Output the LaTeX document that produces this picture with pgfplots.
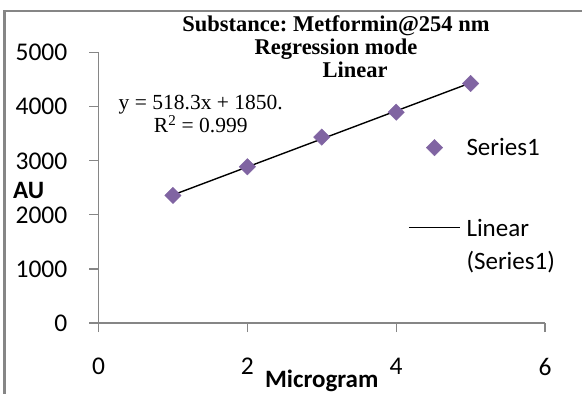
\documentclass[border=0pt]{standalone}
\usepackage{pgfplots}
\pgfplotsset{compat=1.18}
\usepackage{fontspec}
\setmainfont{Carlito}
\newfontfamily\serifcam{Liberation Serif}
\definecolor{ptcol}{RGB}{128,100,162}
\definecolor{axgray}{RGB}{134,134,134}
\frenchspacing
\begin{document}
\begin{tikzpicture}
\useasboundingbox (0,0) rectangle (582bp,394bp);
\draw[axgray, line width=2.2bp] (4.5bp,0) -- (4.5bp,383bp) -- (582bp,383bp);
\begin{axis}[
  at={(98.5bp,71bp)}, anchor=south west,
  scale only axis, width=446.5bp, height=270.3bp,
  xmin=0, xmax=6, ymin=0, ymax=5000,
  axis lines=left, axis line style={-, axgray, line width=1.2bp},
  xtick={0,2,4,6}, ytick={0,1000,2000,3000,4000,5000},
  tick align=outside, major tick length=9bp,
  tick style={axgray, line width=1.2bp},
  /pgf/number format/assume math mode=true,
  scaled y ticks=false,
  /pgf/number format/1000 sep={},
  tick label style={font=\fontsize{25.5bp}{30bp}\selectfont, inner sep=0pt},
  yticklabel style={anchor=east, xshift=-22bp},
  xticklabel style={anchor=north, yshift=-26bp},
  xlabel={\bfseries Microgram},
  xlabel style={at={(axis description cs:0.5,-0.1739)}, anchor=north, inner sep=0pt, font=\fontsize{25bp}{30bp}\selectfont},
  ylabel={\bfseries AU},
  ylabel style={at={(axis description cs:-0.1915,0.492)}, rotate=-90, anchor=west, inner sep=0pt, font=\fontsize{25bp}{30bp}\selectfont},
  title={Substance: Metformin@254 nm\\Regression mode\\\hspace*{38bp}Linear},
  title style={at={(axis description cs:0.532,1.116)}, anchor=north, align=center, inner sep=0pt, font=\serifcam\bfseries\fontsize{22.5bp}{23.2bp}\selectfont},
  legend style={at={(axis description cs:0.693,0.684)}, anchor=north west, draw=none, fill=none, inner sep=0pt, row sep=61.8bp, column sep=5.5bp, font=\fontsize{25bp}{33bp}\selectfont, nodes={inner sep=0pt, align=left}},
  legend cell align=left,
]
\addplot[only marks, mark=square*, mark size=5.8bp, mark options={rotate=45, fill=ptcol, draw=ptcol},
  legend image code/.code={\draw[only marks, mark=square*, mark size=5.8bp, mark options={rotate=45, fill=ptcol, draw=ptcol}] plot coordinates {(25.75bp,0bp)};}]
  coordinates {(1,2360) (2,2890) (3,3440) (4,3900) (5,4430)};
\addlegendentry{Series1}
\addplot[black, line width=1.4bp, no marks,
  legend image code/.code={\draw[black, line width=1.4bp] (0bp,17bp) -- (51.5bp,17bp);}]
  coordinates {(1,2368.3) (5,4441.5)};
\addlegendentry{Linear\\(Series1)}
\node[anchor=north, align=center, inner sep=0pt, font=\serifcam\fontsize{21.5bp}{22.7bp}\selectfont] at (axis description cs:0.229,0.8417) {y = 518.3x + 1850.\\R\textsuperscript{2} = 0.999};
\end{axis}
\end{tikzpicture}
\end{document}
